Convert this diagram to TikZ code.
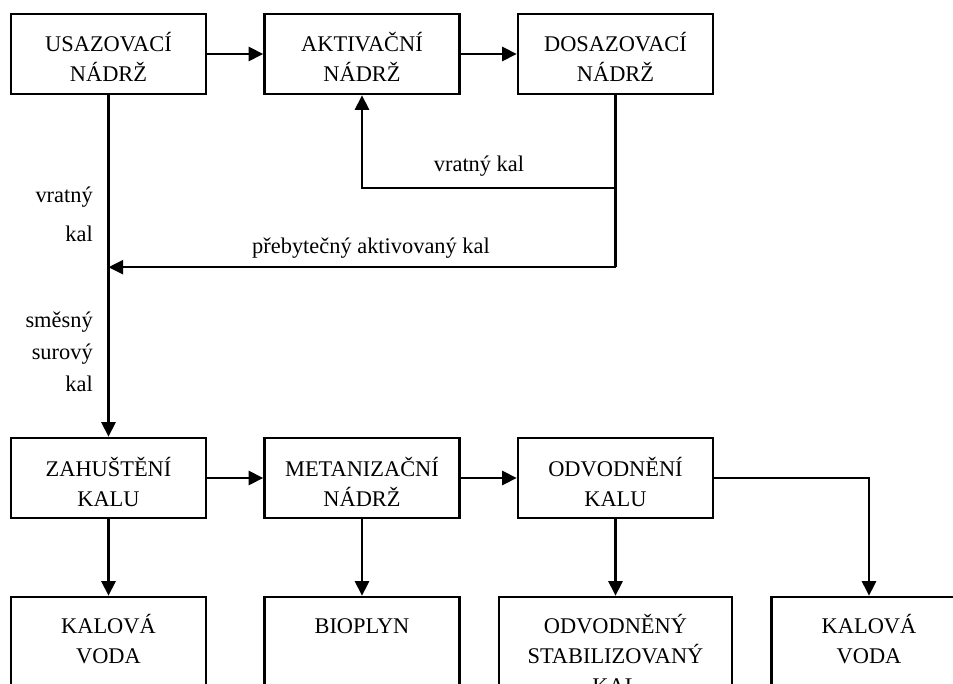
\documentclass[tikz,border=0pt]{standalone}
\usepackage{fontspec}
\setmainfont{Liberation Serif}
\usetikzlibrary{positioning, arrows.meta, calc}
\tikzstyle{every node}=[font=\fontsize{16.8}{22.5}\selectfont]
\tikzstyle{block}=[draw, rectangle, line width=1.8pt, align=center, inner sep=0pt, text width=146.25pt, text height=28.5pt, text depth=31.5pt]
\tikzstyle{outbox}=[block, text height=27pt, text depth=75pt]
\tikzstyle{lbl}=[inner sep=0pt]
\tikzstyle{flow}=[->, line width=1.8pt]

\begin{document}
\begin{tikzpicture}[x=0.75pt, y=-0.75pt, >={Triangle[length=11pt, width=10.5pt]}, node distance=190.125pt]
            \useasboundingbox (0,0) rectangle (953,684);
            \clip (0,0) rectangle (953,684);
            \node[block] (usaz) at (108.5,54) {USAZOVACÍ\\NÁDRŽ};
            \node[block, right of=usaz] (akt) {AKTIVAČNÍ\\NÁDRŽ};
            \node[block, right of=akt] (dos) {DOSAZOVACÍ\\NÁDRŽ};
            \node[block] (zah) at (108.5,478) {ZAHUŠTĚNÍ\\KALU};
            \node[block, right of=zah] (met) {METANIZAČNÍ\\NÁDRŽ};
            \node[block, right of=met] (odv) {ODVODNĚNÍ\\KALU};
            \node[outbox, below of=zah, node distance=140.25pt] (voda) {KALOVÁ\\VODA};
            \node[outbox, right of=voda] (bio) {BIOPLYN};
            \node[outbox, right of=bio, text width=174.75pt] (kal) {ODVODNĚNÝ\\STABILIZOVANÝ\\KAL};
            \node[outbox, right of=kal] (voda2) {KALOVÁ\\VODA};
            \coordinate (split) at ($(dos.south)+(0,93)$);
            \coordinate (excess) at ($(dos.south)+(0,172)$);
            \node[lbl, anchor=base] (retlbl) at (479,172) {vratný kal};
            \node[lbl, anchor=base] (exlbl) at (371,254) {přebytečný aktivovaný kal};
            \node[lbl, anchor=base east, align=right] (retlbl2) at (93,242) {vratný\\[6.75pt]kal};
            \node[lbl, anchor=base east, align=right] (rawlbl) at (93,391) {směsný\\[1.5pt]surový\\[1.5pt]kal};
            \draw[flow] (usaz) -- (akt);
            \draw[flow] (akt) -- (dos);
            \draw[flow] (usaz) -- (zah);
            \draw[line width=1.8pt] (dos) -- (excess);
            \draw[flow] (excess) -- (excess -| usaz);
            \draw[flow] (split) -| (akt);
            \draw[flow] (zah) -- (met);
            \draw[flow] (met) -- (odv);
            \draw[flow] (zah) -- (voda);
            \draw[flow] (met) -- (bio);
            \draw[flow] (odv) -- (kal);
            \draw[flow] (odv) -| (voda2);
        \end{tikzpicture}
\end{document}
